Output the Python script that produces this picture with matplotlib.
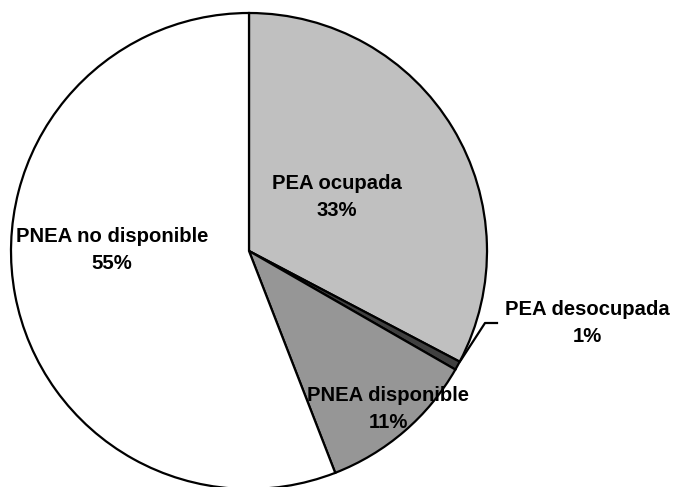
import matplotlib.pyplot as plt

# Data
labels = ['PEA ocupada', 'PEA desocupada', 'PNEA disponible', 'PNEA no disponible']
shares = [32.7, 0.6, 10.8, 55.9]
pct_text = ['33%', '1%', '11%', '55%']
colors = ['#C0C0C0', '#404040', '#969696', '#FFFFFF']

plt.rcParams['font.family'] = ['Liberation Sans', 'DejaVu Sans']

fig = plt.figure(figsize=(6.75, 4.87), dpi=100)
ax = fig.add_axes([0, 0, 1, 1])

# data units == pixels, pie centre at pixel (249, 251)
cx, cy = 249, 251
R = 238
ax.pie(shares, colors=colors, startangle=90, counterclock=False, radius=R,
       center=(0, 0), wedgeprops=dict(edgecolor='black', linewidth=1.6))
ax.set_xlim(-cx, 675 - cx)
ax.set_ylim(-(487 - cy), cy)
ax.set_aspect('auto')
ax.axis('off')

# label centres in pixel coordinates of the picture
label_pos = [(337, 197), (587, 323), (388, 409), (112, 250)]
for lab, pct, (px, py) in zip(labels, pct_text, label_pos):
    ax.text(px - cx, cy - py, f'{lab}\n{pct}', ha='center', va='center',
            fontsize=14.6, fontweight='bold', linespacing=1.5)

# leader line for the small slice
lx = [461 - cx, 485 - cx, 497 - cx]
ly = [cy - 360, cy - 323, cy - 323]
ax.plot(lx, ly, color='black', linewidth=1.6)

fig.savefig('out.png', dpi=100)
